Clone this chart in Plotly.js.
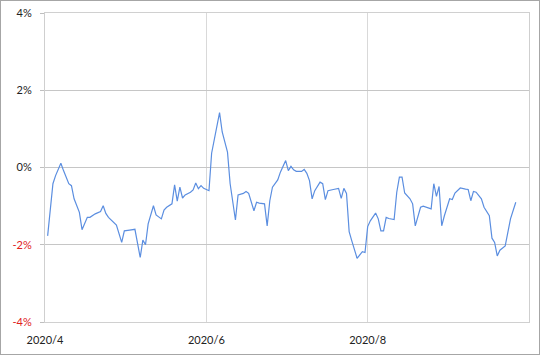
<!DOCTYPE html>
<html>
<head>
<meta charset="utf-8">
<script src="https://cdn.plot.ly/plotly-3.0.1.min.js"></script>
<style>
  html, body { margin: 0; padding: 0; background: #fff; }
  #chart { position: absolute; left: 0; top: 0; width: 538px; height: 353px; border: 1px solid #a6a6a6; }
</style>
</head>
<body>
<div id="chart"></div>
<script>
const dates = [
  '2020-04-02','2020-04-03','2020-04-04','2020-04-05','2020-04-07','2020-04-08','2020-04-10','2020-04-11','2020-04-12','2020-04-14',
  '2020-04-15','2020-04-17','2020-04-18','2020-04-20','2020-04-22','2020-04-23','2020-04-24','2020-04-25','2020-04-26','2020-04-28',
  '2020-04-30','2020-05-01','2020-05-03','2020-05-05','2020-05-07','2020-05-08','2020-05-09','2020-05-10','2020-05-12','2020-05-13',
  '2020-05-15','2020-05-16','2020-05-17','2020-05-19','2020-05-20','2020-05-21','2020-05-22','2020-05-23','2020-05-24','2020-05-26',
  '2020-05-27','2020-05-28','2020-05-29','2020-05-30','2020-05-31','2020-06-02','2020-06-03','2020-06-04','2020-06-06','2020-06-07',
  '2020-06-09','2020-06-10','2020-06-12','2020-06-13','2020-06-15','2020-06-16','2020-06-17','2020-06-19','2020-06-20','2020-06-21',
  '2020-06-23','2020-06-24','2020-06-25','2020-06-26','2020-06-28','2020-06-29','2020-07-01','2020-07-02','2020-07-03','2020-07-04',
  '2020-07-05','2020-07-07','2020-07-08','2020-07-09','2020-07-10','2020-07-11','2020-07-12','2020-07-14','2020-07-15','2020-07-16',
  '2020-07-17','2020-07-19','2020-07-21','2020-07-22','2020-07-23','2020-07-24','2020-07-25','2020-07-26','2020-07-27','2020-07-28',
  '2020-07-30','2020-07-31','2020-08-01','2020-08-02','2020-08-04','2020-08-05','2020-08-06','2020-08-07','2020-08-08','2020-08-09',
  '2020-08-11','2020-08-12','2020-08-13','2020-08-14','2020-08-15','2020-08-17','2020-08-18','2020-08-19','2020-08-21','2020-08-22',
  '2020-08-25','2020-08-26','2020-08-27','2020-08-28','2020-08-29','2020-08-30','2020-09-01','2020-09-02','2020-09-03','2020-09-05',
  '2020-09-07','2020-09-08','2020-09-09','2020-09-10','2020-09-11','2020-09-13','2020-09-14','2020-09-16','2020-09-17','2020-09-18',
  '2020-09-19','2020-09-20','2020-09-22','2020-09-23','2020-09-24','2020-09-26'
];
const values = [
  -1.77,-1.03,-0.42,-0.21,0.11,-0.08,-0.42,-0.47,-0.81,-1.16,
  -1.61,-1.29,-1.29,-1.20,-1.14,-0.99,-1.19,-1.29,-1.36,-1.49,
  -1.94,-1.64,-1.62,-1.60,-2.33,-1.88,-2.00,-1.46,-0.99,-1.23,
  -1.33,-1.10,-1.03,-0.94,-0.45,-0.87,-0.51,-0.79,-0.71,-0.64,
  -0.58,-0.40,-0.55,-0.47,-0.54,-0.60,0.37,0.74,1.42,0.92,
  0.40,-0.42,-1.36,-0.71,-0.67,-0.62,-0.67,-1.12,-0.90,-0.92,
  -0.94,-1.51,-0.86,-0.51,-0.32,-0.12,0.18,-0.08,0.03,-0.06,
  -0.10,-0.10,-0.05,-0.15,-0.34,-0.81,-0.60,-0.38,-0.42,-0.83,
  -0.60,-0.57,-0.54,-0.80,-0.54,-0.67,-1.66,-1.90,-2.16,-2.35,
  -2.18,-2.20,-1.53,-1.38,-1.18,-1.33,-1.64,-1.64,-1.29,-1.32,
  -1.35,-0.64,-0.25,-0.25,-0.66,-0.81,-0.94,-1.51,-1.03,-1.00,
  -1.07,-0.42,-0.75,-0.49,-1.51,-1.25,-0.81,-0.83,-0.66,-0.53,
  -0.56,-0.57,-0.86,-0.62,-0.64,-0.81,-1.03,-1.25,-1.83,-1.94,
  -2.29,-2.14,-2.03,-1.68,-1.33,-0.90
];
const yTickVals = [-4, -2, 0, 2, 4];
const yTickText = ['<span style="color:#e0201b">-4%</span>', '<span style="color:#e0201b">-2%</span>', '0%', '2%', '4%'];
const xTickVals = ['2020-04-01', '2020-06-01', '2020-08-01'];
const xTickText = ['2020/4', '2020/6', '2020/8'];

const trace = {
  x: dates, y: values, type: 'scatter', mode: 'lines',
  line: { color: '#5b8ee0', width: 1.2 },
  hoverinfo: 'skip'
};
const layout = {
  width: 538, height: 353,
  margin: { l: 44, r: 10, t: 12, b: 32, pad: 0 },
  paper_bgcolor: '#ffffff', plot_bgcolor: '#ffffff',
  showlegend: false,
  font: { family: 'Lato, "Open Sans", sans-serif', size: 10, color: '#222222' },
  xaxis: {
    type: 'date',
    range: ['2020-04-01', '2020-10-01'],
    tickvals: xTickVals, ticktext: xTickText,
    showgrid: true, gridcolor: '#d9d9d9', gridwidth: 1,
    showline: true, linecolor: '#d0d0d0', linewidth: 1, mirror: true,
    ticks: '', zeroline: false,
    ticklabelstandoff: 8,
    tickfont: { size: 11, color: '#222222' }
  },
  yaxis: {
    range: [-4, 4],
    tickvals: yTickVals, ticktext: yTickText,
    showgrid: true, gridcolor: '#c6c6c6', gridwidth: 1,
    showline: true, linecolor: '#cfcfcf', linewidth: 1, mirror: true,
    ticks: 'outside', ticklen: 4, tickcolor: '#bfbfbf',
    zeroline: false,
    ticklabelstandoff: 6,
    tickfont: { size: 11, color: '#222222' }
  }
};
Plotly.newPlot('chart', [trace], layout, { staticPlot: true, displayModeBar: false });
</script>
</body>
</html>
